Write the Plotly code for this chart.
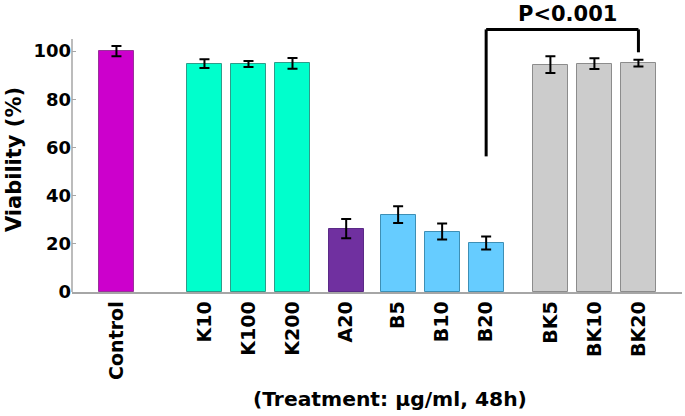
import plotly.graph_objects as go

# ---- data ----
categories = ["Control", "K10", "K100", "K200", "A20", "B5", "B10", "B20", "BK5", "BK10", "BK20"]
viability = [100.0, 94.8, 94.6, 94.9, 26.3, 32.1, 25.1, 20.3, 94.4, 94.8, 95.0]
viability_sd = [2.1, 1.8, 1.25, 2.2, 4.0, 3.5, 3.3, 2.7, 3.5, 2.2, 1.4]
y_ticks = [0, 20, 40, 60, 80, 100]
p_label = "P<0.001"

# ---- layout / style ----
positions = [0, 2, 3, 4, 5.22, 6.4, 7.4, 8.4, 9.86, 10.86, 11.86]
fill_colors = ["#CC00CC", "#00FFCC", "#00FFCC", "#00FFCC", "#7030A0",
               "#66CCFF", "#66CCFF", "#66CCFF", "#CCCCCC", "#CCCCCC", "#CCCCCC"]
edge_colors = ["#99329A", "#2E9C8A", "#2E9C8A", "#2E9C8A", "#5A2A86",
               "#3E8FB5", "#3E8FB5", "#3E8FB5", "#8C8C8C", "#8C8C8C", "#8C8C8C"]
FONT = "DejaVu Sans"
AXIS_GRAY = "#A6A6A6"
Y_AXIS_TOP = 105
Y_RANGE = [0, 110]

fig = go.Figure()
fig.add_trace(go.Bar(
    x=positions,
    y=viability,
    width=0.8,
    marker=dict(color=fill_colors, line=dict(color=edge_colors, width=1)),
    error_y=dict(type="data", array=viability_sd, visible=True,
                 color="black", thickness=2, width=5),
    showlegend=False,
    hoverinfo="skip",
))

# significance bracket between B20 and BK20
i_left = categories.index("B20")
i_right = categories.index("BK20")
bracket_top = 109
fig.add_shape(type="line", xref="x", yref="y",
              x0=positions[i_left], x1=positions[i_left], y0=56.3, y1=bracket_top,
              line=dict(color="black", width=3))
fig.add_shape(type="line", xref="x", yref="y",
              x0=positions[i_left], x1=positions[i_right], y0=bracket_top, y1=bracket_top,
              line=dict(color="black", width=3))
fig.add_shape(type="line", xref="x", yref="y",
              x0=positions[i_right], x1=positions[i_right], y0=bracket_top, y1=99.5,
              line=dict(color="black", width=3))
fig.add_annotation(x=10.24, y=115.4 / Y_RANGE[1], xref="x", yref="paper",
                   text="<b>" + p_label + "</b>",
                   showarrow=False, font=dict(family=FONT, size=21, color="black"),
                   xanchor="center", yanchor="middle")

# x-axis title
fig.add_annotation(x=0.521, y=-0.404, xref="paper", yref="paper",
                   text="<b>(Treatment: µg/ml, 48h)</b>", showarrow=False,
                   font=dict(family=FONT, size=20.3, color="black"),
                   xanchor="center", yanchor="middle")

# y-axis line only up to 105
fig.add_shape(type="line", xref="paper", yref="y", x0=0, x1=0, y0=0, y1=Y_AXIS_TOP,
              line=dict(color=AXIS_GRAY, width=1.5))

fig.update_layout(
    width=685, height=416,
    margin=dict(l=72, r=3, t=27, b=124),
    plot_bgcolor="white", paper_bgcolor="white",
    font=dict(family=FONT, color="black"),
    bargap=0,
    xaxis=dict(
        range=[-1.01, 12.85],
        tickmode="array", tickvals=positions,
        ticktext=["<b>" + c + "</b>" for c in categories],
        tickangle=-90,
        tickfont=dict(family=FONT, size=19, color="black"),
        showline=True, linecolor=AXIS_GRAY, linewidth=1.5,
        ticks="", showgrid=False, zeroline=False,
        automargin=False,
    ),
    yaxis=dict(
        range=Y_RANGE,
        tickmode="array", tickvals=y_ticks,
        ticktext=["<b>%d</b>" % v for v in y_ticks],
        tickfont=dict(family=FONT, size=18, color="black"),
        ticks="inside", ticklen=4, tickcolor=AXIS_GRAY, tickwidth=1,
        showline=False, showgrid=False, zeroline=False,
        title=dict(text="<b>Viability (%)</b>",
                   font=dict(family=FONT, size=21, color="black"), standoff=6),
        automargin=False,
    ),
)

fig.write_html("out.html", config={"displayModeBar": False},
               post_script="document.body.style.margin='0';")
